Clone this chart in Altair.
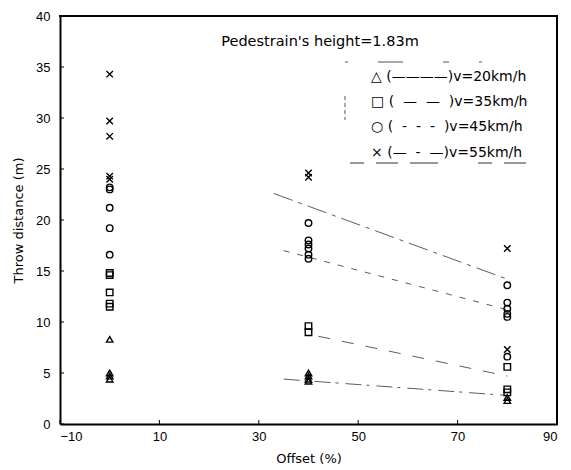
import altair as alt
import pandas as pd

# ---- scatter data (offset %, throw distance m) ----
offsets = [0, 40, 80]
v20_at0 = [8.3, 5.0, 4.7, 4.4]
v20_at40 = [5.0, 4.7, 4.4, 4.2]
v20_at80 = [2.6, 2.3]
v35_at0 = [14.8, 14.6, 12.9, 11.8, 11.5]
v35_at40 = [9.6, 9.0]
v35_at80 = [5.6, 3.4, 3.1]
v45_at0 = [23.2, 23.0, 21.2, 19.2, 16.6]
v45_at40 = [19.7, 18.0, 17.6, 17.2, 16.6, 16.2]
v45_at80 = [13.6, 11.9, 11.3, 10.8, 10.5, 6.6]
v55_at0 = [34.3, 29.7, 28.2, 24.3, 24.0]
v55_at40 = [24.6, 24.2]
v55_at80 = [17.2, 7.3]

# ---- fitted trend lines ----
fit20_x = [35, 80]
fit20_y = [4.4, 2.8]
fit35_x = [42, 80]
fit35_y = [8.6, 4.7]
fit45_x = [35, 80]
fit45_y = [17.0, 11.2]
fit55_x = [33, 80]
fit55_y = [22.6, 14.2]

NB = "\u00a0"
series_names = ["20", "35", "45", "55"]
legend_lines = [
    "△" + NB + "(————)v=20km/h",
    "□" + NB + "(" + NB * 2 + "—" + NB * 2 + "—" + NB * 2 + ")v=35km/h",
    "○" + NB + "(" + NB * 2 + "-" + NB * 2 + "-" + NB * 2 + "-" + NB * 2 + ")v=45km/h",
    "×" + NB + "(—" + NB * 2 + "-" + NB * 2 + "—)v=55km/h",
]
title_text = "Pedestrain's height=1.83m"
y_ticks = [0, 5, 10, 15, 20, 25, 30, 35, 40]
x_ticks = [-10, 10, 30, 50, 70, 90]

groups = {
    "20": [v20_at0, v20_at40, v20_at80],
    "35": [v35_at0, v35_at40, v35_at80],
    "45": [v45_at0, v45_at40, v45_at80],
    "55": [v55_at0, v55_at40, v55_at80],
}
rows = []
for s, lists in groups.items():
    for off, vals in zip(offsets, lists):
        for v in vals:
            rows.append({"offset": off, "dist": v, "speed": s})
pts = pd.DataFrame(rows)

fits = {"20": (fit20_x, fit20_y), "35": (fit35_x, fit35_y),
        "45": (fit45_x, fit45_y), "55": (fit55_x, fit55_y)}
lrows = []
for s, (xs, ys) in fits.items():
    for i, (a, b) in enumerate(zip(xs, ys)):
        lrows.append({"offset": a, "dist": b, "speed": s, "order": i})
lines = pd.DataFrame(lrows)

font = "Liberation Sans"
wide = "DejaVu Sans"
xscale = alt.Scale(domain=[-10, 90], nice=False, zero=False)
yscale = alt.Scale(domain=[0, 40], nice=False)

xaxis = alt.Axis(values=x_ticks, title="Offset (%)", labelFont=font, titleFont=wide,
                 labelFontSize=13, titleFontSize=13, titleFontWeight="normal",
                 labelColor="black", titleColor="black", ticks=False, grid=False,
                 domainColor="black", domainWidth=2, labelPadding=6, titlePadding=9)
yaxis = alt.Axis(values=y_ticks, title="Throw distance (m)", labelFont=font, titleFont=wide,
                 labelFontSize=13, titleFontSize=13, titleFontWeight="normal",
                 labelColor="black", titleColor="black", ticks=False, grid=False,
                 domainColor="black", domainWidth=2, labelPadding=10, titlePadding=10)

shape_scale = alt.Scale(domain=series_names,
                        range=["triangle-up", "square", "circle", "M-1,-1L1,1M-1,1L1,-1"])

points = alt.Chart(pts).mark_point(filled=False, color="black", strokeWidth=1.4, size=42, opacity=1).encode(
    x=alt.X("offset:Q", scale=xscale, axis=xaxis),
    y=alt.Y("dist:Q", scale=yscale, axis=yaxis),
    shape=alt.Shape("speed:N", scale=shape_scale, legend=None),
)

dash_scale = alt.Scale(domain=series_names,
                       range=[[16, 5, 3, 7], [12, 12], [6, 8], [20, 6, 4, 6]])
trend = alt.Chart(lines).mark_line(color="#333333", strokeWidth=1, opacity=0.8).encode(
    x=alt.X("offset:Q", scale=xscale, axis=xaxis),
    y=alt.Y("dist:Q", scale=yscale, axis=yaxis),
    detail="speed:N",
    order="order:Q",
    strokeDash=alt.StrokeDash("speed:N", scale=dash_scale, legend=None),
)

# inward tick marks on axes
ytick_df = pd.DataFrame({"v": y_ticks})
yticks = alt.Chart(ytick_df).mark_rule(color="black", strokeWidth=1).encode(
    y=alt.Y("v:Q", scale=yscale, axis=yaxis), x=alt.value(0), x2=alt.value(4))
xtick_df = pd.DataFrame({"v": x_ticks})
xticks = alt.Chart(xtick_df).mark_rule(color="black", strokeWidth=1).encode(
    x=alt.X("v:Q", scale=xscale, axis=xaxis), y=alt.value(408), y2=alt.value(404))

title_df = pd.DataFrame({"t": [title_text]})
title = alt.Chart(title_df).mark_text(font=wide, fontSize=14.5, color="black", align="center").encode(
    text="t:N", x=alt.value(260), y=alt.value(26))

legend_layers = []
row_y = [61, 86, 111, 137]
for txt, yy in zip(legend_lines, row_y):
    d = pd.DataFrame({"t": [txt]})
    legend_layers.append(
        alt.Chart(d).mark_text(font=wide, fontSize=14, color="black", align="left",
                               baseline="middle").encode(
            text="t:N", x=alt.value(311), y=alt.value(yy)))

# faint broken legend frame
frame_top = alt.Chart(title_df).mark_rule(color="#555555", strokeWidth=1, strokeDash=[3, 30, 25, 40, 6, 30]).encode(
    x=alt.value(285), x2=alt.value(450), y=alt.value(46))
frame_bottom = alt.Chart(title_df).mark_rule(color="#333333", strokeWidth=1, strokeDash=[14, 12, 22, 12, 28, 40]).encode(
    x=alt.value(290), x2=alt.value(470), y=alt.value(147))
frame_left = alt.Chart(title_df).mark_rule(color="#555555", strokeWidth=1, strokeDash=[4, 3]).encode(
    x=alt.value(285), y=alt.value(80), y2=alt.value(104))

# plot frame (top and right edges) as solid filled bars
border_top = alt.Chart(title_df).mark_rect(color="black", opacity=1).encode(
    x=alt.value(-1), x2=alt.value(498), y=alt.value(-1), y2=alt.value(1))
border_right = alt.Chart(title_df).mark_rect(color="black", opacity=1).encode(
    x=alt.value(496), x2=alt.value(498), y=alt.value(-1), y2=alt.value(409))

chart = alt.layer(trend, points, yticks, xticks, title, *legend_layers,
                  frame_top, frame_bottom, frame_left, border_top, border_right).properties(
    width=497, height=408,
    autosize=alt.AutoSizeParams(type="none"),
    padding={"left": 52, "top": 8, "right": 6, "bottom": 40},
    background="white",
).configure_view(stroke=None)

chart.save("out.html", embed_options={"renderer": "svg", "actions": False})
